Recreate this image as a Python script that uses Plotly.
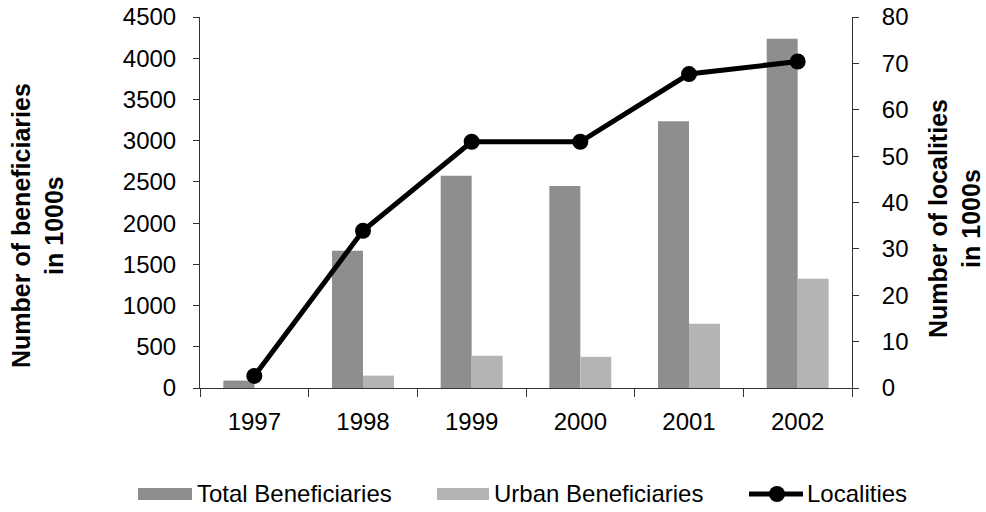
import plotly.graph_objects as go

years = ["1997", "1998", "1999", "2000", "2001", "2002"]
total_beneficiaries = [90, 1665, 2575, 2450, 3235, 4235]
urban_beneficiaries = [0, 150, 390, 378, 778, 1325]
localities = [2.6, 33.9, 53.1, 53.1, 67.7, 70.4]

legend_labels = ["Total Beneficiaries", "Urban Beneficiaries", "Localities"]
TOTAL_COLOR = "#8e8e8e"
URBAN_COLOR = "#b4b4b4"

FONT = "Liberation Sans, Arial, sans-serif"
W, H = 986, 512
ML, MR, MT, MB = 200, 134, 17, 124
PW, PH = W - ML - MR, H - MT - MB


def px(x):
    return (x - ML) / PW


def py(y):
    return (H - MB - y) / PH


fig = go.Figure()
fig.add_trace(go.Bar(x=years, y=total_beneficiaries, name=legend_labels[0],
                     marker=dict(color=TOTAL_COLOR, line=dict(width=0)), offsetgroup="a"))
fig.add_trace(go.Bar(x=years, y=urban_beneficiaries, name=legend_labels[1],
                     marker=dict(color=URBAN_COLOR, line=dict(width=0)), offsetgroup="b"))
fig.add_trace(go.Scatter(x=years, y=localities, name=legend_labels[2], yaxis="y2",
                         mode="lines+markers", cliponaxis=False,
                         line=dict(color="black", width=5),
                         marker=dict(color="black", size=16)))

# custom legend (swatches + labels) below the plot
shapes = [
    dict(type="rect", xref="paper", yref="paper", x0=px(138), x1=px(192), y0=py(500), y1=py(488),
         fillcolor=TOTAL_COLOR, line=dict(width=0)),
    dict(type="rect", xref="paper", yref="paper", x0=px(437), x1=px(489), y0=py(500), y1=py(488),
         fillcolor=URBAN_COLOR, line=dict(width=0)),
    dict(type="line", xref="paper", yref="paper", x0=px(749), x1=px(803), y0=py(494), y1=py(494),
         line=dict(color="black", width=5)),
    dict(type="circle", xref="paper", yref="paper", x0=px(769), x1=px(785), y0=py(502), y1=py(486),
         fillcolor="black", line=dict(width=0)),
]

annotations = [
    dict(text="<b>Number of beneficiaries<br>in 1000s</b>", textangle=-90,
         xref="paper", yref="paper", x=px(38), y=py(226), xanchor="center", yanchor="middle",
         showarrow=False, font=dict(size=25)),
    dict(text="<b>Number of localities<br>in 1000s</b>", textangle=-90,
         xref="paper", yref="paper", x=px(955), y=py(219), xanchor="center", yanchor="middle",
         showarrow=False, font=dict(size=25)),
]
for label, x0 in zip(legend_labels, [195, 492, 805]):
    annotations.append(dict(text=label, xref="paper", yref="paper", x=px(x0), y=py(494),
                            xanchor="left", yanchor="middle", showarrow=False,
                            font=dict(size=24)))

fig.update_layout(
    width=W, height=H,
    margin=dict(l=ML, r=MR, t=MT, b=MB, autoexpand=False),
    paper_bgcolor="white", plot_bgcolor="white",
    font=dict(family=FONT, size=24, color="black"),
    barmode="group", bargap=0.43, bargroupgap=0,
    showlegend=False,
    xaxis=dict(type="category", showline=True, linecolor="#333", linewidth=1,
               ticks="outside", ticklen=8, tickcolor="#333", tickson="boundaries",
               showgrid=False, tickfont=dict(size=24), ticklabelstandoff=12,
               automargin=False),
    yaxis=dict(range=[0, 4500], dtick=500, showline=True, linecolor="#333", linewidth=1,
               ticks="outside", ticklen=6, tickcolor="#333", showgrid=False,
               zeroline=False, tickfont=dict(size=24), ticklabelstandoff=12,
               automargin=False),
    yaxis2=dict(range=[0, 80], dtick=10, overlaying="y", side="right", showline=True,
                linecolor="#333", linewidth=1, ticks="outside", ticklen=6, tickcolor="#333",
                showgrid=False, zeroline=False, tickfont=dict(size=24), ticklabelstandoff=18,
                automargin=False),
    shapes=shapes,
    annotations=annotations,
)

fig.write_html("out.html")
